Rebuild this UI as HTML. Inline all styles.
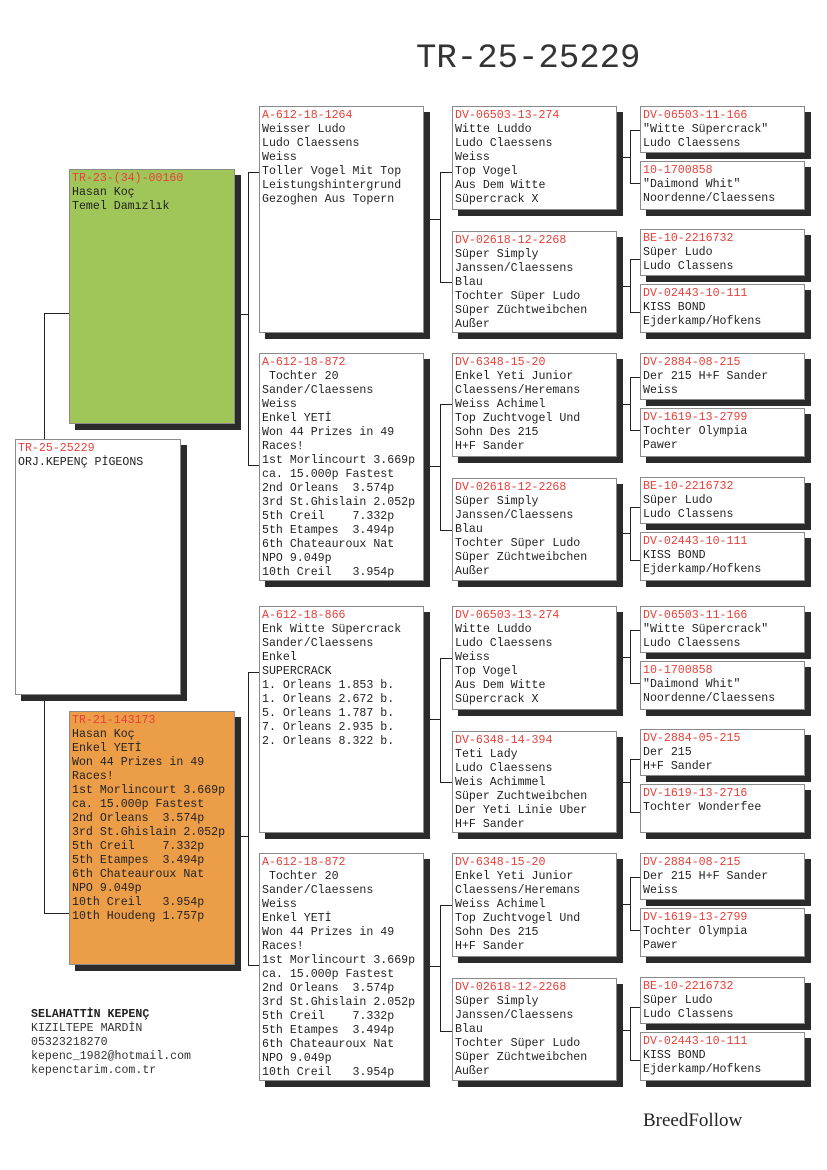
<!DOCTYPE html>
<html><head><meta charset="utf-8"><style>
body{margin:0;width:827px;height:1170px;background:#fff;position:relative;overflow:hidden;font-family:"Liberation Mono","DejaVu Sans Mono",monospace;}
.b{position:absolute;box-sizing:border-box;border:1.5px solid #8a8a8a;background:#fff;box-shadow:6px 6px 0 #2b2b2b;padding:2px 0 0 2px;font-size:11.6px;line-height:14px;color:#222;white-space:pre;overflow:hidden;}
.r{color:#e8403a}
.l{position:absolute;background:#222}
</style></head><body>
<div style="position:absolute;left:416px;top:40px;font-size:34px;color:#333;font-family:'Liberation Mono',monospace;">TR-25-25229</div>

<!-- lines -->
<div class="l" style="left:44px;top:313px;width:1px;height:600px"></div>
<div class="l" style="left:44px;top:313px;width:25px;height:1px"></div>
<div class="l" style="left:44px;top:913px;width:25px;height:1px"></div>

<div class="l" style="left:248px;top:172px;width:1px;height:293px"></div>
<div class="l" style="left:234px;top:314px;width:14px;height:1px"></div>
<div class="l" style="left:248px;top:172px;width:11px;height:1px"></div>
<div class="l" style="left:248px;top:465px;width:11px;height:1px"></div>
<div class="l" style="left:248px;top:672px;width:1px;height:293px"></div>
<div class="l" style="left:234px;top:836px;width:14px;height:1px"></div>
<div class="l" style="left:248px;top:672px;width:11px;height:1px"></div>
<div class="l" style="left:248px;top:965px;width:11px;height:1px"></div>

<!-- gen2->gen3 -->
<div class="l" style="left:440px;top:172px;width:1px;height:110px"></div><div class="l" style="left:423px;top:219px;width:17px;height:1px"></div><div class="l" style="left:440px;top:172px;width:12px;height:1px"></div><div class="l" style="left:440px;top:282px;width:12px;height:1px"></div>
<div class="l" style="left:440px;top:404px;width:1px;height:126px"></div><div class="l" style="left:423px;top:466px;width:17px;height:1px"></div><div class="l" style="left:440px;top:404px;width:12px;height:1px"></div><div class="l" style="left:440px;top:530px;width:12px;height:1px"></div>
<div class="l" style="left:440px;top:658px;width:1px;height:124px"></div><div class="l" style="left:423px;top:719px;width:17px;height:1px"></div><div class="l" style="left:440px;top:658px;width:12px;height:1px"></div><div class="l" style="left:440px;top:782px;width:12px;height:1px"></div>
<div class="l" style="left:440px;top:905px;width:1px;height:126px"></div><div class="l" style="left:423px;top:966px;width:17px;height:1px"></div><div class="l" style="left:440px;top:905px;width:12px;height:1px"></div><div class="l" style="left:440px;top:1031px;width:12px;height:1px"></div>

<!-- gen3->gen4 -->
<div class="l" style="left:630px;top:130px;width:1px;height:53px"></div><div class="l" style="left:616px;top:157px;width:14px;height:1px"></div><div class="l" style="left:630px;top:130px;width:10px;height:1px"></div><div class="l" style="left:630px;top:183px;width:10px;height:1px"></div>
<div class="l" style="left:630px;top:259px;width:1px;height:53px"></div><div class="l" style="left:616px;top:286px;width:14px;height:1px"></div><div class="l" style="left:630px;top:259px;width:10px;height:1px"></div><div class="l" style="left:630px;top:312px;width:10px;height:1px"></div>
<div class="l" style="left:630px;top:377px;width:1px;height:53px"></div><div class="l" style="left:616px;top:404px;width:14px;height:1px"></div><div class="l" style="left:630px;top:377px;width:10px;height:1px"></div><div class="l" style="left:630px;top:430px;width:10px;height:1px"></div>
<div class="l" style="left:630px;top:507px;width:1px;height:53px"></div><div class="l" style="left:616px;top:533px;width:14px;height:1px"></div><div class="l" style="left:630px;top:507px;width:10px;height:1px"></div><div class="l" style="left:630px;top:560px;width:10px;height:1px"></div>
<div class="l" style="left:630px;top:630px;width:1px;height:53px"></div><div class="l" style="left:616px;top:657px;width:14px;height:1px"></div><div class="l" style="left:630px;top:630px;width:10px;height:1px"></div><div class="l" style="left:630px;top:683px;width:10px;height:1px"></div>
<div class="l" style="left:630px;top:759px;width:1px;height:53px"></div><div class="l" style="left:616px;top:782px;width:14px;height:1px"></div><div class="l" style="left:630px;top:759px;width:10px;height:1px"></div><div class="l" style="left:630px;top:812px;width:10px;height:1px"></div>
<div class="l" style="left:630px;top:877px;width:1px;height:53px"></div><div class="l" style="left:616px;top:904px;width:14px;height:1px"></div><div class="l" style="left:630px;top:877px;width:10px;height:1px"></div><div class="l" style="left:630px;top:930px;width:10px;height:1px"></div>
<div class="l" style="left:630px;top:1007px;width:1px;height:53px"></div><div class="l" style="left:616px;top:1030px;width:14px;height:1px"></div><div class="l" style="left:630px;top:1007px;width:10px;height:1px"></div><div class="l" style="left:630px;top:1060px;width:10px;height:1px"></div>

<!-- root -->
<div class="b" style="left:15px;top:439px;width:166px;height:256px"><span class="r">TR-25-25229</span>
ORJ.KEPENÇ PİGEONS</div>
<div class="b" style="left:69px;top:169px;width:166px;height:255px;background:#a0c65a"><span class="r">TR-23-(34)-00160</span>
Hasan Koç
Temel Damızlık</div>
<div class="b" style="left:69px;top:711px;width:166px;height:254px;background:#eb9d48"><span class="r">TR-21-143173</span>
Hasan Koç
Enkel YETİ
Won 44 Prizes in 49
Races!
1st Morlincourt 3.669p
ca. 15.000p Fastest
2nd Orleans  3.574p
3rd St.Ghislain 2.052p
5th Creil    7.332p
5th Etampes  3.494p
6th Chateauroux Nat
NPO 9.049p
10th Creil   3.954p
10th Houdeng 1.757p</div>

<!-- gen2 -->
<div class="b" style="left:259px;top:106px;width:165px;height:227px"><span class="r">A-612-18-1264</span>
Weisser Ludo
Ludo Claessens
Weiss
Toller Vogel Mit Top
Leistungshintergrund
Gezoghen Aus Topern</div>
<div class="b" style="left:259px;top:353px;width:165px;height:228px"><span class="r">A-612-18-872</span>
 Tochter 20
Sander/Claessens
Weiss
Enkel YETİ
Won 44 Prizes in 49
Races!
1st Morlincourt 3.669p
ca. 15.000p Fastest
2nd Orleans  3.574p
3rd St.Ghislain 2.052p
5th Creil    7.332p
5th Etampes  3.494p
6th Chateauroux Nat
NPO 9.049p
10th Creil   3.954p</div>
<div class="b" style="left:259px;top:606px;width:165px;height:227px"><span class="r">A-612-18-866</span>
Enk Witte Süpercrack
Sander/Claessens
Enkel
SUPERCRACK
1. Orleans 1.853 b.
1. Orleans 2.672 b.
5. Orleans 1.787 b.
7. Orleans 2.935 b.
2. Orleans 8.322 b.</div>
<div class="b" style="left:259px;top:853px;width:165px;height:228px"><span class="r">A-612-18-872</span>
 Tochter 20
Sander/Claessens
Weiss
Enkel YETİ
Won 44 Prizes in 49
Races!
1st Morlincourt 3.669p
ca. 15.000p Fastest
2nd Orleans  3.574p
3rd St.Ghislain 2.052p
5th Creil    7.332p
5th Etampes  3.494p
6th Chateauroux Nat
NPO 9.049p
10th Creil   3.954p</div>

<!-- gen3 -->
<div class="b" style="left:452px;top:106px;width:165px;height:104px"><span class="r">DV-06503-13-274</span>
Witte Luddo
Ludo Claessens
Weiss
Top Vogel
Aus Dem Witte
Süpercrack X</div>
<div class="b" style="left:452px;top:231px;width:165px;height:102px"><span class="r">DV-02618-12-2268</span>
Süper Simply
Janssen/Claessens
Blau
Tochter Süper Ludo
Süper Züchtweibchen
Außer</div>
<div class="b" style="left:452px;top:353px;width:165px;height:104px"><span class="r">DV-6348-15-20</span>
Enkel Yeti Junior
Claessens/Heremans
Weiss Achimel
Top Zuchtvogel Und
Sohn Des 215
H+F Sander</div>
<div class="b" style="left:452px;top:478px;width:165px;height:103px"><span class="r">DV-02618-12-2268</span>
Süper Simply
Janssen/Claessens
Blau
Tochter Süper Ludo
Süper Züchtweibchen
Außer</div>
<div class="b" style="left:452px;top:606px;width:165px;height:104px"><span class="r">DV-06503-13-274</span>
Witte Luddo
Ludo Claessens
Weiss
Top Vogel
Aus Dem Witte
Süpercrack X</div>
<div class="b" style="left:452px;top:731px;width:165px;height:102px"><span class="r">DV-6348-14-394</span>
Teti Lady
Ludo Claessens
Weis Achimmel
Süper Zuchtweibchen
Der Yeti Linie Uber
H+F Sander</div>
<div class="b" style="left:452px;top:853px;width:165px;height:104px"><span class="r">DV-6348-15-20</span>
Enkel Yeti Junior
Claessens/Heremans
Weiss Achimel
Top Zuchtvogel Und
Sohn Des 215
H+F Sander</div>
<div class="b" style="left:452px;top:978px;width:165px;height:103px"><span class="r">DV-02618-12-2268</span>
Süper Simply
Janssen/Claessens
Blau
Tochter Süper Ludo
Süper Züchtweibchen
Außer</div>

<!-- gen4 -->
<div class="b" style="left:640px;top:106px;width:165px;height:47px"><span class="r">DV-06503-11-166</span>
"Witte Süpercrack"
Ludo Claessens</div>
<div class="b" style="left:640px;top:161px;width:165px;height:49px"><span class="r">10-1700858</span>
"Daimond Whit"
Noordenne/Claessens</div>
<div class="b" style="left:640px;top:229px;width:165px;height:47px"><span class="r">BE-10-2216732</span>
Süper Ludo
Ludo Classens</div>
<div class="b" style="left:640px;top:284px;width:165px;height:49px"><span class="r">DV-02443-10-111</span>
KISS BOND
Ejderkamp/Hofkens</div>
<div class="b" style="left:640px;top:353px;width:165px;height:47px"><span class="r">DV-2884-08-215</span>
Der 215 H+F Sander
Weiss</div>
<div class="b" style="left:640px;top:408px;width:165px;height:49px"><span class="r">DV-1619-13-2799</span>
Tochter Olympia
Pawer</div>
<div class="b" style="left:640px;top:477px;width:165px;height:47px"><span class="r">BE-10-2216732</span>
Süper Ludo
Ludo Classens</div>
<div class="b" style="left:640px;top:532px;width:165px;height:49px"><span class="r">DV-02443-10-111</span>
KISS BOND
Ejderkamp/Hofkens</div>
<div class="b" style="left:640px;top:606px;width:165px;height:47px"><span class="r">DV-06503-11-166</span>
"Witte Süpercrack"
Ludo Claessens</div>
<div class="b" style="left:640px;top:661px;width:165px;height:49px"><span class="r">10-1700858</span>
"Daimond Whit"
Noordenne/Claessens</div>
<div class="b" style="left:640px;top:729px;width:165px;height:47px"><span class="r">DV-2884-05-215</span>
Der 215
H+F Sander</div>
<div class="b" style="left:640px;top:784px;width:165px;height:49px"><span class="r">DV-1619-13-2716</span>
Tochter Wonderfee</div>
<div class="b" style="left:640px;top:853px;width:165px;height:47px"><span class="r">DV-2884-08-215</span>
Der 215 H+F Sander
Weiss</div>
<div class="b" style="left:640px;top:908px;width:165px;height:49px"><span class="r">DV-1619-13-2799</span>
Tochter Olympia
Pawer</div>
<div class="b" style="left:640px;top:977px;width:165px;height:47px"><span class="r">BE-10-2216732</span>
Süper Ludo
Ludo Classens</div>
<div class="b" style="left:640px;top:1032px;width:165px;height:49px"><span class="r">DV-02443-10-111</span>
KISS BOND
Ejderkamp/Hofkens</div>

<div style="position:absolute;left:31px;top:1008px;font-size:11.6px;line-height:14px;color:#333;white-space:pre"><b style="color:#222">SELAHATTİN KEPENÇ</b>
KIZILTEPE MARDİN
05323218270
kepenc_1982@hotmail.com
kepenctarim.com.tr</div>
<div style="position:absolute;left:643px;top:1110px;font-family:'Liberation Serif',serif;font-size:19px;color:#222">BreedFollow</div>
</body></html>
